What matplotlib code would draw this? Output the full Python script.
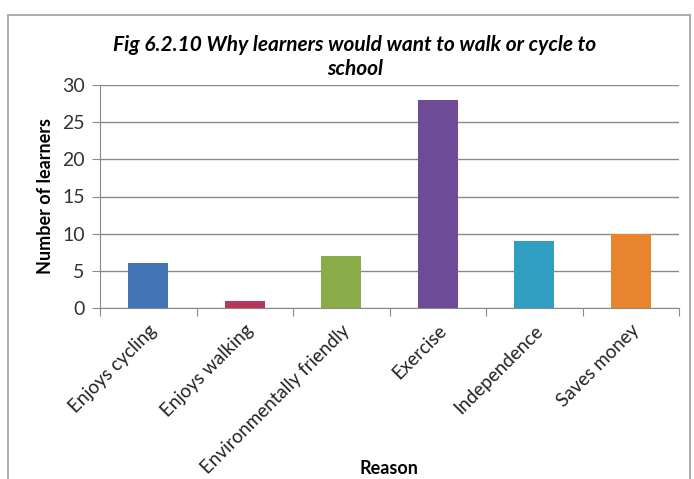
import matplotlib.pyplot as plt
from matplotlib.patches import Rectangle

reasons = ['Enjoys cycling', 'Enjoys walking', 'Environmentally friendly',
           'Exercise', 'Independence', 'Saves money']
learners = [6, 1, 7, 28, 9, 10]
colors = ['#4273b5', '#b53658', '#8aac48', '#6d4b96', '#2f9ec0', '#e8832e']
y_ticks = [0, 5, 10, 15, 20, 25, 30]

plt.rcParams['font.family'] = ['Lato', 'DejaVu Sans']

fig = plt.figure(figsize=(6.94, 4.79), dpi=100)
ax = fig.add_axes([100 / 694, 1 - 308 / 479, 579 / 694, 223 / 479])

# chart frame like the Excel chart area
fig.patches.append(Rectangle((8 / 694, -0.05), 682 / 694, 1.05 - 15 / 479,
                             transform=fig.transFigure, fill=False,
                             edgecolor='#a0a0a0', lw=1.2))

x = range(len(reasons))
ax.bar(x, learners, width=0.41, color=colors, zorder=3)

ax.set_xlim(-0.5, len(reasons) - 0.5)
ax.set_ylim(0, 30)
ax.set_yticks(y_ticks)
ax.yaxis.grid(True, color='#8a8a8a', lw=1, zorder=0)
ax.set_xticks([i - 0.5 for i in range(len(reasons) + 1)], minor=False)
ax.set_xticklabels([])
ax.set_xticks(list(x), minor=True)
ax.set_xticklabels(reasons, minor=True, rotation=45, ha='right',
                   rotation_mode='anchor', fontsize=13.5)
ax.tick_params(axis='x', which='major', length=6, color='#8a8a8a')
ax.tick_params(axis='x', which='minor', length=0, pad=10)
ax.tick_params(axis='y', length=6, color='#8a8a8a', labelsize=14,
               labelcolor='#333333', pad=5)
ax.tick_params(axis='x', which='minor', labelcolor='#222222')

for side in ['top', 'right']:
    ax.spines[side].set_visible(False)
for side in ['left', 'bottom']:
    ax.spines[side].set_color('#8a8a8a')

ax.set_ylabel('Number of learners', fontsize=13, fontweight='bold', labelpad=6)
fig.text(389 / 694, 1 - 468 / 479, 'Reason', fontsize=13, fontweight='bold',
         ha='center', va='center')
fig.text(355 / 694, 1 - 57 / 479,
         'Fig 6.2.10 Why learners would want to walk or cycle to\nschool',
         fontsize=15, fontweight='bold', style='italic', ha='center',
         va='center', linespacing=1.2)

fig.savefig('out.png', dpi=100)
